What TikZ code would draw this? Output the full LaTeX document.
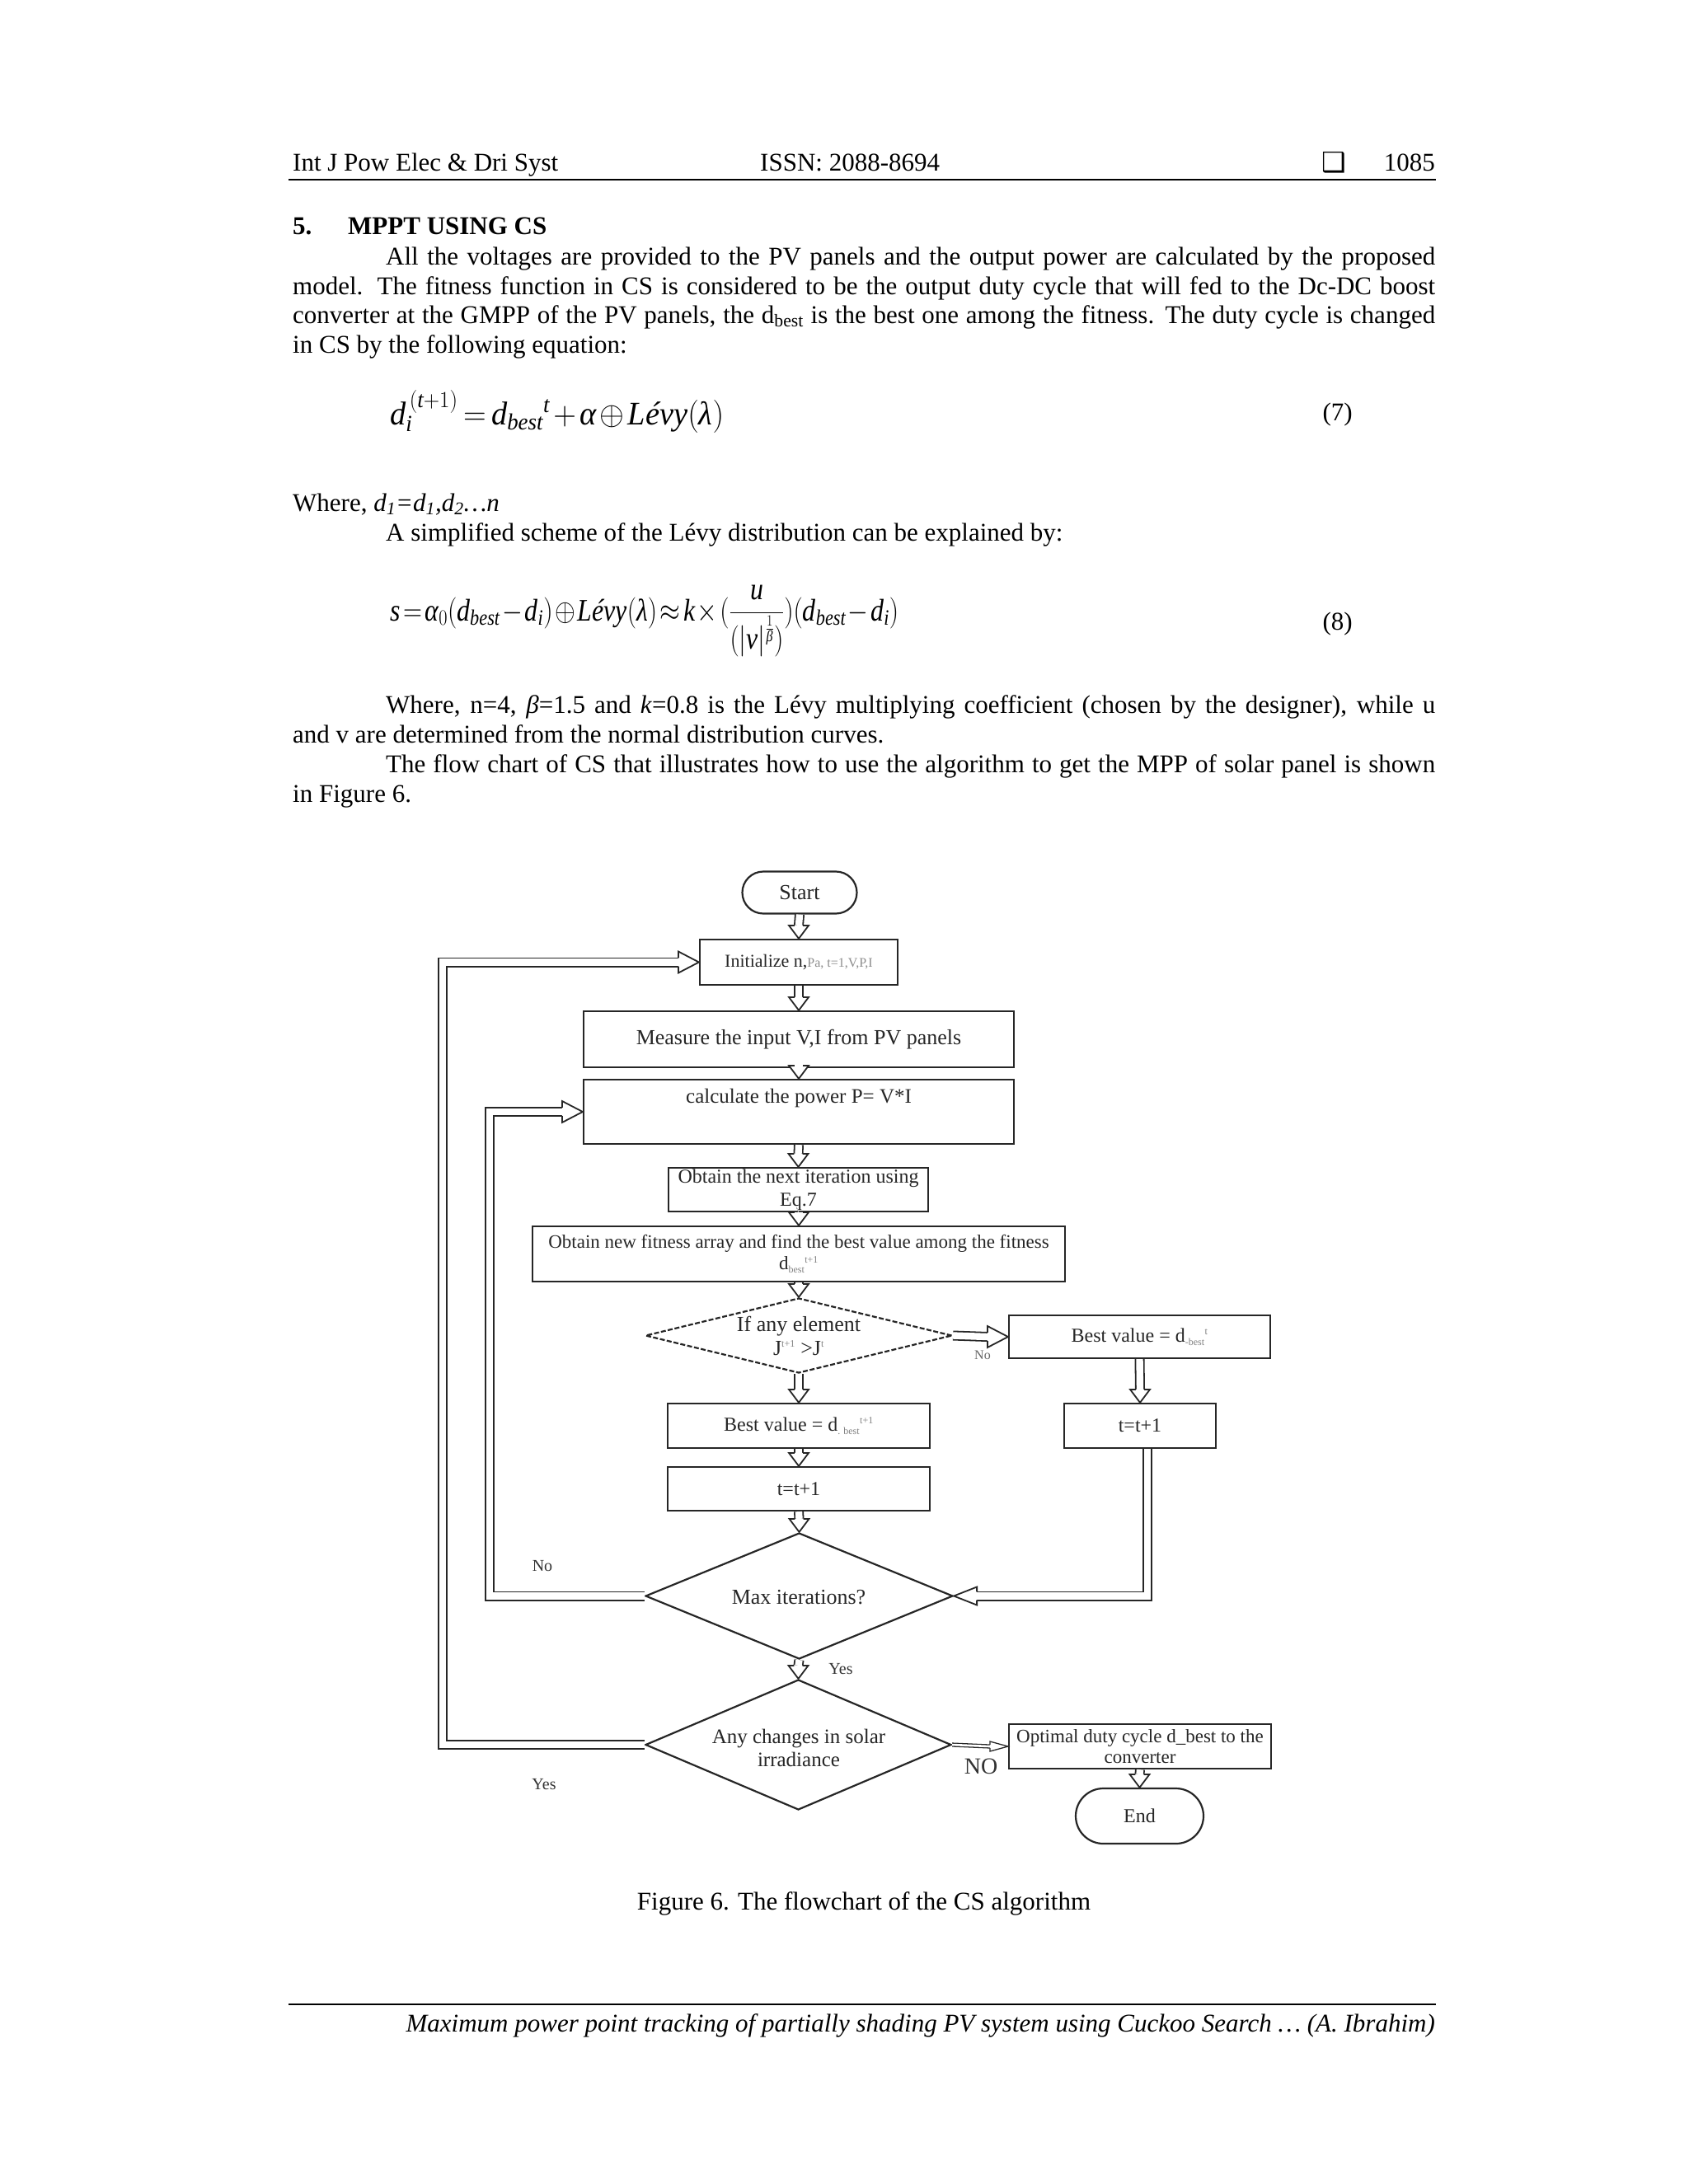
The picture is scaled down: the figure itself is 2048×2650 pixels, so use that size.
\documentclass[tikz,border=0pt]{standalone}
\usepackage{fix-cm}
\usepackage{amsmath}
\usepackage{graphicx}
\usepackage{fontspec}
\setmainfont{Liberation Serif}
\newfontfamily\djv{DejaVu Sans}
\usetikzlibrary{shapes.geometric,shapes.misc,calc}
\newcommand{\bodyf}{\fontsize{31}{35.7}\selectfont}
\newcommand{\eqf}{\fontsize{40}{48}\selectfont}
\newcommand{\eqff}{\fontsize{38}{46}\selectfont}
\newcommand{\ffont}{\fontsize{24}{28}\selectfont}
\newcommand{\mi}[1]{\text{\itshape #1}}
\newcommand{\sm}[1]{\text{\fontsize{12}{12}\selectfont\color{black!50}#1}}
\tikzset{
 fbox/.style={draw=black!85, line width=2.2pt, fill=white, rectangle, font=\ffont, text=black!85, align=center},
 fterm/.style={fbox, rounded rectangle},
 fdia/.style={draw=black!85, line width=2.2pt, fill=white, diamond},
 ftxt/.style={font=\ffont, text=black!85, align=center},
 lbl/.style={text=black!80},
 shaft/.style={draw=black!85, line width=1.8pt, double=white, double distance=8.4pt},
 thinshaft/.style={draw=black!85, line width=1.3pt, double=white, double distance=2.6pt},
 hdS/.pic={\filldraw[fill=white,draw=black!85,line width=1.8pt] (-5.1,-16) -- (-12,-16) -- (0,0) -- (12,-16) -- (5.1,-16);},
 hdE/.pic={\filldraw[fill=white,draw=black!85,line width=1.8pt] (-25,-5.1) -- (-25,-13) -- (0,0) -- (-25,13) -- (-25,5.1);},
 hdW/.pic={\filldraw[fill=white,draw=black!85,line width=1.8pt] (28,-5.1) -- (28,-11) -- (0,0) -- (28,11) -- (28,5.1);},
 hdEs/.pic={\filldraw[fill=white,draw=black!85,line width=1.3pt] (-22,-1.95) -- (-22,-6) -- (0,0) -- (-22,6) -- (-22,1.95);},
}
\begin{document}
\begin{tikzpicture}[x=1pt,y=-1pt, every node/.style={inner sep=0pt}]
\fill[white] (0,0) rectangle (2048,2650);
\useasboundingbox (0,0) rectangle (2048,2650);

% header
\node[anchor=base west, font=\bodyf] (hl) at (355,207) {Int J Pow Elec \& Dri Syst};
\node[anchor=base west, font=\bodyf] (hc) at (922,207) {ISSN: 2088-8694};
\node[anchor=base west, font=\djv\fontsize{33}{33}\selectfont] (hs) at (1603,208) {❑};
\node[anchor=base east, font=\bodyf] (hr) at (1741,207) {1085};
\draw[line width=2.2pt] (350,218) -- (1742,218);

% section
\node[anchor=base west, font=\bodyf\bfseries] (s5) at (355,284) {5.};
\node[anchor=base west, font=\bodyf\bfseries] (st) at (422,284) {MPPT USING CS};

\node[anchor=base west, font=\bodyf] (p1) at (468,321) {\makebox[1273pt][s]{All the voltages are provided to the PV panels and the output power are calculated by the proposed}};
\node[anchor=base west, font=\bodyf] (p2) at (355,357) {\makebox[1386pt][s]{model. The fitness function in CS is considered to be the output duty cycle that will fed to the Dc-DC boost}};
\node[anchor=base west, font=\bodyf] (p3) at (355,392) {\makebox[1386pt][s]{converter at the GMPP of the PV panels, the d\textsubscript{best} is the best one among the fitness. The duty cycle is changed}};
\node[anchor=base west, font=\bodyf] (p4) at (355,428) {in CS by the following equation:};

% equation 7
\node[anchor=base west, font=\eqf] (eq7) at (473,515) {\resizebox{405pt}{\height}{$\thickmuskip=3mu\medmuskip=2mu \mi{d}_{\mi{i}}^{\,(\mi{t}+1)} = \mi{d}_{\mi{best}}{}^{\mi{t}} + \mi{α} \oplus \mi{Lévy}(\mi{λ})$}};
\node[anchor=base east, font=\bodyf] (n7) at (1641,510) {(7)};

\node[anchor=base west, font=\bodyf] (w1) at (355,620) {Where, \textit{d}\textsubscript{\textit{1}}\textit{=d}\textsubscript{\textit{1}}\textit{,d}\textsubscript{\textit{2}}\textit{…n}};
\node[anchor=base west, font=\bodyf] (w2) at (468,656) {A simplified scheme of the Lévy distribution can be explained by:};

% equation 8
\node[anchor=base west, font=\eqff] (eq8) at (473,753) {\resizebox{617pt}{\height}{$\displaystyle \thickmuskip=2mu\medmuskip=1.5mu \mi{s} = \mi{α}_{0}(\mi{d}_{\mi{best}} - \mi{d}_{\mi{i}}) \oplus \mi{Lévy}(\mi{λ}) \approx \mi{k}\times(\frac{\mi{u}}{(|\mi{v}|^{\frac{1}{\mi{β}}})})(\mi{d}_{\mi{best}} - \mi{d}_{\mi{i}})$}};
\node[anchor=base east, font=\bodyf] (n8) at (1641,764) {(8)};

\node[anchor=base west, font=\bodyf] (q1) at (468,865) {\makebox[1273pt][s]{Where, n=4, \textit{β}=1.5 and \textit{k}=0.8 is the Lévy multiplying coefficient (chosen by the designer), while u}};
\node[anchor=base west, font=\bodyf] (q2) at (355,901) {and v are determined from the normal distribution curves.};
\node[anchor=base west, font=\bodyf] (q3) at (468,937) {\makebox[1273pt][s]{The flow chart of CS that illustrates how to use the algorithm to get the MPP of solar panel is shown}};
\node[anchor=base west, font=\bodyf] (q4) at (355,973) {in Figure 6.};

% flowchart nodes
\node[fterm, minimum width=139pt, minimum height=51pt, font=\fontsize{26}{28}\selectfont] (nstart) at (970,1083) {Start};
\node[fbox, minimum width=240pt, minimum height=55pt] (ninit) at (969,1167.5) {\fontsize{22}{24}\selectfont Initialize n,{\fontsize{16}{18}\selectfont\color{black!45}Pa, t=1,V,P,I}};
\node[fbox, minimum width=522pt, minimum height=68pt, font=\fontsize{26}{28}\selectfont] (nmeas) at (969,1261) {Measure the input V,I from PV panels};
\node[fbox, minimum width=522pt, minimum height=78pt] (ncalc) at (969,1349) {};
\node[ftxt, anchor=base, font=\fontsize{25}{28}\selectfont] (ncalct) at (969,1338) {calculate the power P= V*I};
\node[fbox, minimum width=315pt, minimum height=53pt] (nnext) at (968.5,1443.5) {Obtain the next iteration using\\Eq.7};
\node[fbox, minimum width=646pt, minimum height=67pt, font=\fontsize{23}{30}\selectfont] (nfit) at (969,1521.5) {Obtain new fitness array and find the best value among the fitness\\[-4pt]$\text{d}_{\sm{best}}{}^{\sm{t+1}}$};
\node[fdia, dash pattern=on 6pt off 2.5pt, minimum width=372pt, minimum height=91pt] (nd1) at (969,1620.5) {};
\node[ftxt, font=\fontsize{26}{29}\selectfont] (nd1t) at (nd1) {If any element\\J$^{\sm{t+1}}$ >J$^{\sm{t}}$};
\node[fbox, minimum width=317pt, minimum height=52pt] (nrb) at (1382.5,1622) {Best value = $\text{d}_{\sm{-best}}{}^{\sm{t}}$};
\node[fbox, minimum width=318pt, minimum height=54pt] (nlb) at (969,1730) {Best value = d$_{\sm{. best}}{}^{\sm{t+1}}$};
\node[fbox, minimum width=184pt, minimum height=54pt] (nrt) at (1383,1730) {t=t+1};
\node[fbox, minimum width=318pt, minimum height=53pt] (nlt) at (969,1806.5) {t=t+1};
\node[fdia, minimum width=373pt, minimum height=153pt] (nmax) at (969.5,1936.5) {};
\node[ftxt, font=\fontsize{26}{28}\selectfont] (nmaxt) at (969,1938) {Max iterations?};
\node[fdia, minimum width=371pt, minimum height=158pt] (nany) at (968.5,2117) {};
\node[ftxt, font=\fontsize{25}{28}\selectfont] (nanyt) at (969,2121) {Any changes in solar\\irradiance};
\node[fbox, minimum width=318pt, minimum height=54pt, font=\fontsize{23}{25}\selectfont] (nopt) at (1383,2119) {Optimal duty cycle d\_best to the\\converter};
\node[fterm, minimum width=155pt, minimum height=67pt] (nend) at (1382.5,2203.5) {End};

% labels
\node[lbl, font=\fontsize{16}{16}\selectfont, text=black!60] (lno1) at (1192,1644) {No};
\node[lbl, font=\fontsize{20}{20}\selectfont] (lno2) at (658,1900) {No};
\node[lbl, font=\fontsize{20}{20}\selectfont] (lyes1) at (1020,2025) {Yes};
\node[lbl, font=\fontsize{20}{20}\selectfont] (lyes2) at (660,2165) {Yes};
\node[lbl, font=\fontsize{28}{28}\selectfont] (lno3) at (1190,2143) {NO};

% connectors
\draw[shaft] (nstart.south) -- ($(ninit.north)+(0,-16)$);
\pic at (ninit.north) {hdS};
\draw[shaft] (ninit.south) -- ($(nmeas.north)+(0,-16)$);
\pic at (nmeas.north) {hdS};
\pic at (ncalc.north) {hdS};
\draw[shaft] (ncalc.south) -- ($(nnext.north)+(0,-16)$);
\pic at (nnext.north) {hdS};
\draw[shaft] (nnext.south) -- ($(nfit.north)+(0,-16)$);
\pic at (nfit.north) {hdS};
\draw[shaft] (nfit.south) -- ($(nd1.north)+(0,-16)$);
\pic at (nd1.north) {hdS};
\draw[shaft] (nd1.south) -- ($(nlb.north)+(0,-16)$);
\pic at (nlb.north) {hdS};
\draw[shaft] (nlb.south) -- ($(nlt.north)+(0,-16)$);
\pic at (nlt.north) {hdS};
\draw[shaft] (nlt.south) -- ($(nmax.north)+(0,-16)$);
\pic at (nmax.north) {hdS};
\draw[shaft] (nmax.south) -- ($(nany.north)+(0,-16)$);
\pic at (nany.north) {hdS};
\draw[shaft] (nrb.south) -- ($(nrt.north)+(0,-16)$);
\pic at (nrt.north) {hdS};
\draw[shaft] (nopt.south) -- ($(nend.north)+(0,-16)$);
\pic at (nend.north) {hdS};
\draw[shaft] (nd1.east) -- ($(nrb.west)+(-25,0)$);
\pic at (nrb.west) {hdE};
\draw[thinshaft] (nany.east) -- ($(nopt.west)+(-22,0)$);
\pic at (nopt.west) {hdEs};
\draw[shaft] (nany.west) -| ($(ninit.west)+(-311,0)$) -- ($(ninit.west)+(-25,0)$);
\pic at (ninit.west) {hdE};
\draw[shaft] (nmax.west) -| ($(ncalc.west)+(-113,0)$) -- ($(ncalc.west)+(-24,0)$);
\pic at (ncalc.west) {hdE};
\draw[shaft] ($(nrt.south)+(9,0)$) |- ($(nmax.east)+(28,0)$);
\pic at (nmax.east) {hdW};

% caption and footer
\node[anchor=base, font=\bodyf] (cap) at (1048,2317) {Figure 6. The flowchart of the CS algorithm};
\draw[line width=2.5pt] (350,2432) -- (1742,2432);
\node[anchor=base east, font=\bodyf\itshape] (ft) at (1741,2465) {Maximum power point tracking of partially shading PV system using Cuckoo Search … (A. Ibrahim)};
\end{tikzpicture}
\end{document}
